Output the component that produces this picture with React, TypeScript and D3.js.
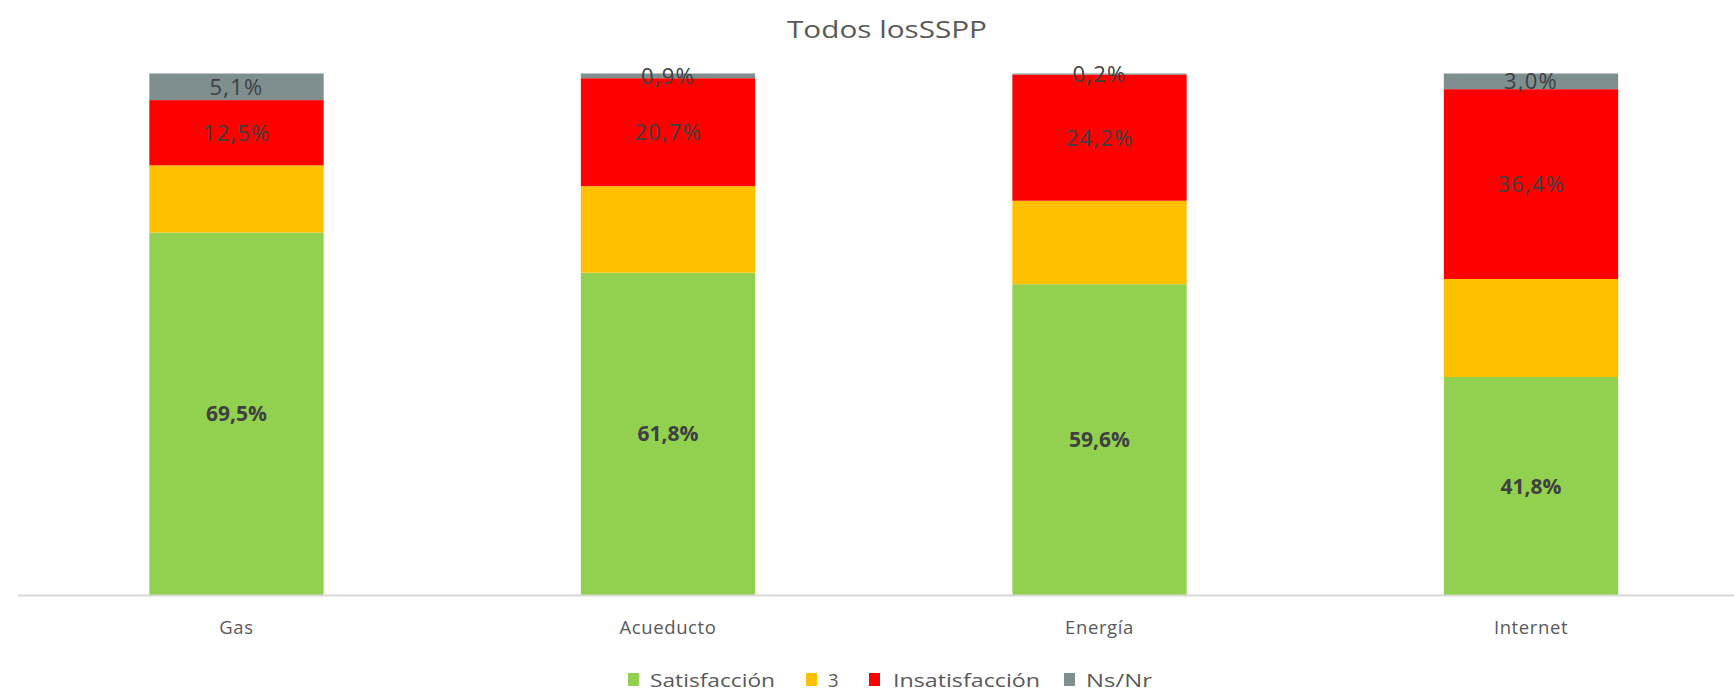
import React from "react";
import * as d3 from "d3";

const categories = ["Gas", "Acueducto", "Energía", "Internet"];
const seriesNames = ["Satisfacción", "3", "Insatisfacción", "Ns/Nr"];
const satisfaccion = [69.5, 61.8, 59.6, 41.8];
const tres = [12.9, 16.6, 16.0, 18.8];
const insatisfaccion = [12.5, 20.7, 24.2, 36.4];
const nsnr = [5.1, 0.9, 0.2, 3.0];
const colors = ["#92D050", "#FFC000", "#FF0000", "#7F8F8F"];
const showLabel = [true, false, true, true];

const W = 1734;
const H = 692;

export default function App() {
  const x = d3
    .scaleBand<string>()
    .domain(categories)
    .range([20.75, 1746.75])
    .paddingInner(0.596)
    .paddingOuter(0.298);
  const y = d3.scaleLinear().domain([0, 100]).range([595, 73.5]);

  const rows = categories.map((c, i) => ({
    cat: c,
    s0: satisfaccion[i],
    s1: tres[i],
    s2: insatisfaccion[i],
    s3: nsnr[i],
  }));
  const stack = d3.stack<any>().keys(["s0", "s1", "s2", "s3"]);
  const layers = stack(rows);

  const fmt = (v: number) => v.toFixed(1).replace(".", ",") + "%";

  const legendItems = [
    { sq: 628, tx: 650, len: 125 },
    { sq: 806, tx: 828, len: 0 },
    { sq: 869, tx: 893, len: 147 },
    { sq: 1064, tx: 1086, len: 66 },
  ];

  return (
    <svg
      width={W}
      height={H}
      style={{ position: "absolute", left: 0, top: 0, background: "#fff" }}
      fontFamily="'Open Sans', sans-serif"
    >
      <text
        x={787}
        y={38}
        fontSize={23}
        fill="#595959"
        textLength={200}
        lengthAdjust="spacingAndGlyphs"
      >
        Todos losSSPP
      </text>
      {layers.map((layer, li) => (
        <g key={li}>
          {layer.map((d: any, i: number) => {
            const x0 = x(categories[i])!;
            const y0 = y(d[1]);
            const y1 = y(d[0]);
            return (
              <rect
                key={i}
                x={x0}
                y={y0}
                width={x.bandwidth()}
                height={y1 - y0}
                fill={colors[li]}
              />
            );
          })}
        </g>
      ))}
      <line x1={18} x2={W} y1={595.5} y2={595.5} stroke="#D9D9D9" strokeWidth={2} />
      {layers.map((layer, li) =>
        showLabel[li]
          ? layer.map((d: any, i: number) => {
              const cx = x(categories[i])! + x.bandwidth() / 2;
              const cy = (y(d[0]) + y(d[1])) / 2;
              const v = d[1] - d[0];
              const bold = li === 0;
              return (
                <text
                  key={`${li}-${i}`}
                  x={cx}
                  y={cy}
                  dy="0.36em"
                  textAnchor="middle"
                  fontSize={bold ? 21 : 22}
                  fontWeight={bold ? 700 : 400}
                  letterSpacing={bold ? 0 : 1.2}
                  fill="#404040"
                >
                  {fmt(v)}
                </text>
              );
            })
          : null
      )}
      {categories.map((c) => (
        <text
          key={c}
          x={x(c)! + x.bandwidth() / 2}
          y={634}
          textAnchor="middle"
          fontSize={18.5}
          letterSpacing={0.6}
          fill="#595959"
        >
          {c}
        </text>
      ))}
      {seriesNames.map((n, i) => (
        <g key={n}>
          <rect x={legendItems[i].sq} y={673} width={11} height={13} fill={colors[i]} />
          {legendItems[i].len > 0 ? (
            <text
              x={legendItems[i].tx}
              y={687}
              fontSize={18.5}
              fill="#595959"
              textLength={legendItems[i].len}
              lengthAdjust="spacingAndGlyphs"
            >
              {n}
            </text>
          ) : (
            <text x={legendItems[i].tx} y={687} fontSize={18.5} fill="#595959">
              {n}
            </text>
          )}
        </g>
      ))}
    </svg>
  );
}
